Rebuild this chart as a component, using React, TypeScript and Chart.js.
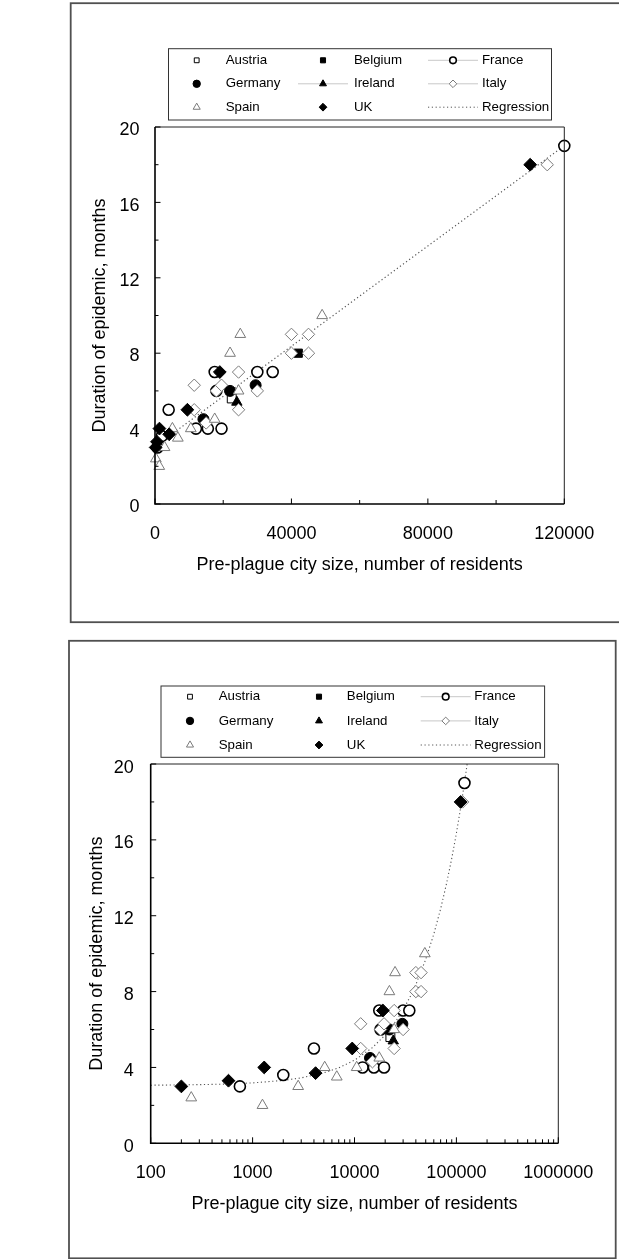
import React, { useEffect, useRef } from 'react';
import { Chart, registerables } from 'chart.js';

Chart.register(...registerables);

const FONT = "'Liberation Sans', Arial, Helvetica, sans-serif";

// ---------- data ----------
const countries = ['Austria', 'Belgium', 'France', 'Germany', 'Ireland', 'Italy', 'Spain', 'UK'];

const austriaSize = [22500];
const austriaMonths = [5.6];
const belgiumSize = [42000];
const belgiumMonths = [8];
const franceSize = [750, 2000, 4000, 12000, 15500, 19500, 18000, 17500, 30000, 34500, 120000];
const franceMonths = [3, 3.6, 5, 4, 4, 4, 6, 7, 7, 7, 19];
const germanySize = [14200, 22000, 29500];
const germanyMonths = [4.5, 6, 6.3];
const irelandSize = [24000];
const irelandMonths = [5.4];
const italySize = [11500, 11500, 15000, 18000, 19500, 24500, 24500, 30000, 40000, 40000, 45000, 45000, 115000];
const italyMonths = [6.3, 5, 4.3, 6, 6.3, 7, 5, 6, 8, 9, 8, 9, 18];
const spainSize = [250, 1250, 2800, 5100, 6700, 10500, 17500, 22000, 25000, 24500, 49000];
const spainMonths = [2.4, 2, 3, 4, 3.5, 4, 4.5, 8, 9, 6, 10];
const ukSize = [200, 580, 1300, 4150, 9500, 19000, 110000];
const ukMonths = [3, 3.3, 4, 3.7, 5, 7, 18];

const regressionLabel = 'Regression';
const regressionIntercept = 3.05;
const regressionSlope = 0.000133;
const regressionSizesLinear = [0, 120000];
const regressionSizesLog = [100, 200, 500, 1000, 2000, 3000, 5000, 7000, 10000, 15000, 20000, 25000, 30000, 35000, 40000, 50000, 60000, 70000, 80000, 90000, 100000, 110000, 120000, 127500];

const yTicks = [0, 4, 8, 12, 16, 20];
const yMinorTicks = [2, 6, 10, 14, 18];
const xTicksLinear = [0, 40000, 80000, 120000];
const xMinorLinear = [20000, 60000, 100000];
const xTicksLog = [100, 1000, 10000, 100000, 1000000];
const logMultipliers = [2, 3, 4, 5, 6, 7, 8, 9];

const xTitle = 'Pre-plague city size, number of residents';
const yTitle = 'Duration of epidemic, months';

const seriesSizes = [austriaSize, belgiumSize, franceSize, germanySize, irelandSize, italySize, spainSize, ukSize];
const seriesMonths = [austriaMonths, belgiumMonths, franceMonths, germanyMonths, irelandMonths, italyMonths, spainMonths, ukMonths];

// ---------- styles ----------
type Mark = { shape: string; r: number; lr: number; fill: string; stroke: string; bw: number; lbw: number };
const marks: Record<string, Mark> = {
  Austria: { shape: 'rect', r: 6.3, lr: 3.4, fill: '#ffffff', stroke: '#000000', bw: 1, lbw: 1 },
  Belgium: { shape: 'rect', r: 5.8, lr: 3.6, fill: '#000000', stroke: '#000000', bw: 1, lbw: 1 },
  France: { shape: 'circle', r: 5.5, lr: 3.3, fill: '#ffffff', stroke: '#000000', bw: 1.6, lbw: 1.6 },
  Germany: { shape: 'circle', r: 5.5, lr: 3.7, fill: '#000000', stroke: '#000000', bw: 1, lbw: 1 },
  Ireland: { shape: 'triangle', r: 6, lr: 4, fill: '#000000', stroke: '#000000', bw: 1, lbw: 1 },
  Italy: { shape: 'rectRot', r: 6.2, lr: 3.8, fill: '#ffffff', stroke: '#7a7a7a', bw: 1, lbw: 1 },
  Spain: { shape: 'triangle', r: 6.2, lr: 4.1, fill: '#ffffff', stroke: '#7a7a7a', bw: 1, lbw: 1 },
  UK: { shape: 'rectRot', r: 6.4, lr: 3.9, fill: '#000000', stroke: '#000000', bw: 1, lbw: 1 },
};

const legendOrder = [...countries, regressionLabel];

type PanelCfg = {
  top: number;
  height: number;
  log: boolean;
  area: { l: number; t: number; r: number; b: number };
  frame: { x: number; y: number; w: number; h: number };
  legend: { x: number; y: number; w: number; h: number; rows: number[]; markerX: number[]; textX: number[]; lines: string[] };
  yTitleX: number;
  xTitleY: number;
  xLabelY: number;
  yLabelGap: number;
  yLabelOffset: number;
};

const panelA: PanelCfg = {
  top: 0,
  height: 630,
  log: false,
  area: { l: 155, t: 127, r: 564.3, b: 504 },
  frame: { x: 70.7, y: 3.2, w: 560, h: 619 },
  legend: { x: 168.5, y: 48.7, w: 383, h: 71.3, rows: [60.3, 83.8, 107.2], markerX: [196.7, 323, 453], textX: [225.7, 354, 482], lines: ['Ireland', 'France', 'Italy'] },
  yTitleX: 100,
  xTitleY: 565,
  xLabelY: 534,
  yLabelGap: 15.5,
  yLabelOffset: 3.3,
};

const panelB: PanelCfg = {
  top: 630,
  height: 629,
  log: true,
  area: { l: 150.7, t: 134, r: 558.3, b: 513.3 },
  frame: { x: 69, y: 10.8, w: 546.7, h: 617.5 },
  legend: { x: 161, y: 56, w: 383.6, h: 71.3, rows: [66.7, 90.9, 115], markerX: [190, 319, 445.7], textX: [218.7, 346.8, 474.3], lines: ['France', 'Italy'] },
  yTitleX: 97,
  xTitleY: 574,
  xLabelY: 542.7,
  yLabelGap: 17,
  yLabelOffset: 3.6,
};

function drawMarker(ctx: CanvasRenderingContext2D, m: Mark, x: number, y: number, r: number, bw: number) {
  ctx.beginPath();
  if (m.shape === 'circle') {
    ctx.arc(x, y, r, 0, Math.PI * 2);
  } else if (m.shape === 'rect') {
    const h = r * Math.SQRT1_2;
    ctx.rect(x - h, y - h, 2 * h, 2 * h);
  } else if (m.shape === 'rectRot') {
    ctx.moveTo(x, y - r);
    ctx.lineTo(x + r, y);
    ctx.lineTo(x, y + r);
    ctx.lineTo(x - r, y);
  } else if (m.shape === 'triangle') {
    ctx.moveTo(x, y - r);
    ctx.lineTo(x + 0.866 * r, y + 0.5 * r);
    ctx.lineTo(x - 0.866 * r, y + 0.5 * r);
  }
  ctx.closePath();
  ctx.fillStyle = m.fill;
  ctx.fill();
  ctx.lineWidth = bw;
  ctx.strokeStyle = m.stroke;
  ctx.stroke();
}

function decorPlugin(cfg: PanelCfg) {
  return {
    id: 'decor',
    afterDraw(chart: any) {
      const ctx: CanvasRenderingContext2D = chart.ctx;
      const ca = chart.chartArea;
      const xs = chart.scales.x;
      const ys = chart.scales.y;
      ctx.save();
      // outer frame
      ctx.strokeStyle = '#505050';
      ctx.lineWidth = 1.8;
      ctx.strokeRect(cfg.frame.x, cfg.frame.y, cfg.frame.w, cfg.frame.h);
      // plot box top/right
      ctx.strokeStyle = '#222';
      ctx.lineWidth = 1;
      ctx.beginPath();
      ctx.moveTo(ca.left, ca.top);
      ctx.lineTo(ca.right, ca.top);
      ctx.lineTo(ca.right, ca.bottom);
      ctx.stroke();
      // axes
      ctx.strokeStyle = '#000';
      ctx.lineWidth = 1.6;
      ctx.beginPath();
      ctx.moveTo(ca.left, ca.top);
      ctx.lineTo(ca.left, ca.bottom);
      ctx.lineTo(ca.right, ca.bottom);
      ctx.stroke();
      // ticks (inward)
      ctx.lineWidth = 1;
      const tickY = (v: number, len: number) => {
        const p = ys.getPixelForValue(v);
        ctx.beginPath();
        ctx.moveTo(ca.left, p);
        ctx.lineTo(ca.left + len, p);
        ctx.stroke();
      };
      const tickX = (v: number, len: number) => {
        const p = xs.getPixelForValue(v);
        ctx.beginPath();
        ctx.moveTo(p, ca.bottom);
        ctx.lineTo(p, ca.bottom - len);
        ctx.stroke();
      };
      yTicks.forEach((v) => tickY(v, 5.5));
      yMinorTicks.forEach((v) => tickY(v, 3.5));
      if (cfg.log) {
        xTicksLog.forEach((v) => tickX(v, 6));
        xTicksLog.slice(0, -1).forEach((d) => logMultipliers.forEach((m) => tickX(d * m, 4)));
      } else {
        xTicksLinear.forEach((v) => tickX(v, 5.5));
        xMinorLinear.forEach((v) => tickX(v, 4));
      }
      // legend
      const L = cfg.legend;
      ctx.strokeStyle = '#333';
      ctx.lineWidth = 1;
      ctx.strokeRect(L.x, L.y, L.w, L.h);
      ctx.font = `13.3px ${FONT}`;
      ctx.textBaseline = 'middle';
      ctx.textAlign = 'left';
      legendOrder.forEach((name, i) => {
        const row = Math.floor(i / 3);
        const col = i % 3;
        const mx = L.markerX[col];
        const my = L.rows[row];
        if (name === regressionLabel) {
          ctx.save();
          ctx.strokeStyle = '#555';
          ctx.lineWidth = 1;
          ctx.setLineDash([1.2, 2.6]);
          ctx.beginPath();
          ctx.moveTo(mx - 25, my);
          ctx.lineTo(mx + 25, my);
          ctx.stroke();
          ctx.restore();
        } else {
          if (L.lines.includes(name)) {
            ctx.strokeStyle = '#c8c8c8';
            ctx.lineWidth = 1;
            ctx.beginPath();
            ctx.moveTo(mx - 25, my);
            ctx.lineTo(mx + 25, my);
            ctx.stroke();
          }
          const m = marks[name];
          drawMarker(ctx, m, mx, my, m.lr, m.lbw);
        }
        ctx.fillStyle = '#000';
        ctx.fillText(name, L.textX[col], my);
      });
      ctx.restore();
    },
  };
}

function buildConfig(cfg: PanelCfg): any {
  const datasets: any[] = countries.map((name, i) => {
    const m = marks[name];
    return {
      type: 'scatter',
      label: name,
      data: seriesSizes[i].map((x, j) => ({ x, y: seriesMonths[i][j] })),
      pointStyle: m.shape,
      pointRadius: m.r,
      pointBackgroundColor: m.fill,
      pointBorderColor: m.stroke,
      pointBorderWidth: m.bw,
      showLine: false,
      clip: false,
      order: countries.length - i,
    };
  });
  const regX = cfg.log ? regressionSizesLog : regressionSizesLinear;
  datasets.push({
    type: 'scatter',
    label: regressionLabel,
    data: regX.map((x) => ({ x, y: regressionIntercept + regressionSlope * x })),
    showLine: true,
    borderColor: '#555555',
    borderWidth: 1.1,
    borderDash: [1.2, 2.6],
    pointRadius: 0,
    fill: false,
    clip: 0,
    order: 20,
  });

  const H = cfg.height;
  const padBottom = 20;
  const xHeight = H - cfg.area.b - padBottom;
  const half = 10.8;
  return {
    type: 'scatter',
    data: { datasets },
    plugins: [decorPlugin(cfg)],
    options: {
      responsive: false,
      animation: false,
      events: [],
      layout: { padding: { left: 0, top: cfg.area.t, right: 619 - cfg.area.r, bottom: padBottom } },
      plugins: { legend: { display: false }, tooltip: { enabled: false }, title: { display: false } },
      scales: {
        x: {
          type: cfg.log ? 'logarithmic' : 'linear',
          min: cfg.log ? xTicksLog[0] : xTicksLinear[0],
          max: cfg.log ? xTicksLog[xTicksLog.length - 1] : xTicksLinear[xTicksLinear.length - 1],
          grid: { display: false, drawTicks: false },
          border: { display: false },
          afterBuildTicks: (s: any) => {
            s.ticks = (cfg.log ? xTicksLog : xTicksLinear).map((v) => ({ value: v }));
          },
          ticks: {
            callback: (v: any) => String(v),
            padding: cfg.xLabelY - cfg.area.b - half,
            font: { size: 18, family: FONT },
            color: '#000',
            autoSkip: false,
            maxRotation: 0,
            minRotation: 0,
          },
          title: {
            display: true,
            text: xTitle,
            font: { size: 18, family: FONT },
            color: '#000',
            padding: { top: 0, bottom: H - padBottom - half - cfg.xTitleY },
          },
          afterFit: (s: any) => {
            s.height = xHeight;
          },
        },
        y: {
          type: 'linear',
          min: yTicks[0],
          max: yTicks[yTicks.length - 1],
          grid: { display: false, drawTicks: false },
          border: { display: false },
          afterBuildTicks: (s: any) => {
            s.ticks = yTicks.map((v) => ({ value: v }));
          },
          ticks: {
            callback: (v: any) => String(v),
            padding: cfg.yLabelGap,
            labelOffset: cfg.yLabelOffset,
            font: { size: 18, family: FONT },
            color: '#000',
            autoSkip: false,
          },
          title: {
            display: true,
            text: yTitle,
            font: { size: 18, family: FONT },
            color: '#000',
            padding: { top: cfg.yTitleX - half, bottom: 0 },
          },
          afterFit: (s: any) => {
            s.width = cfg.area.l;
          },
        },
      },
    },
  };
}

function Panel({ cfg }: { cfg: PanelCfg }) {
  const ref = useRef<HTMLCanvasElement | null>(null);
  useEffect(() => {
    if (!ref.current) return;
    const chart = new Chart(ref.current, buildConfig(cfg));
    return () => chart.destroy();
  }, [cfg]);
  return (
    <canvas
      ref={ref}
      width={619}
      height={cfg.height}
      style={{ position: 'absolute', left: 0, top: cfg.top, width: 619, height: cfg.height, display: 'block' }}
    />
  );
}

export default function App() {
  useEffect(() => {
    document.body.style.margin = '0';
    document.body.style.background = '#ffffff';
  }, []);
  Chart.defaults.font.family = FONT;
  Chart.defaults.color = '#000';
  return (
    <div style={{ position: 'absolute', left: 0, top: 0, width: 619, height: 1259, background: '#fff', overflow: 'hidden' }}>
      <Panel cfg={panelA} />
      <Panel cfg={panelB} />
    </div>
  );
}
